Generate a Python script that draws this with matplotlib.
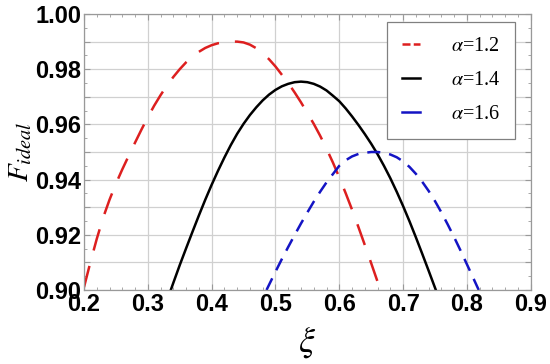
import matplotlib
matplotlib.use('Agg')
import matplotlib.pyplot as plt
from matplotlib.lines import Line2D
from matplotlib.ticker import MultipleLocator, FuncFormatter

# values
xi_12 = [0.200, 0.210, 0.220, 0.230, 0.240, 0.250, 0.260, 0.270, 0.280, 0.290, 0.300, 0.310,
         0.320, 0.330, 0.340, 0.350, 0.360, 0.370, 0.380, 0.390, 0.400, 0.410, 0.420, 0.430,
         0.440, 0.450, 0.460, 0.470, 0.480, 0.490, 0.500, 0.510, 0.520, 0.530, 0.540, 0.550,
         0.560, 0.570, 0.580, 0.590, 0.600, 0.610, 0.620, 0.630, 0.640, 0.650, 0.660, 0.6645]
F_12 = [0.9010, 0.9100, 0.9185, 0.9262, 0.9327, 0.9385, 0.9437, 0.9486, 0.9534, 0.9581, 0.9626, 0.9668,
        0.9706, 0.9741, 0.9772, 0.9800, 0.9825, 0.9846, 0.9863, 0.9877, 0.9887, 0.9894, 0.9898, 0.9900,
        0.9900, 0.9897, 0.9889, 0.9876, 0.9858, 0.9836, 0.9810, 0.9780, 0.9750, 0.9716, 0.9680, 0.9641,
        0.9602, 0.9559, 0.9512, 0.9462, 0.9408, 0.9351, 0.9291, 0.9228, 0.9163, 0.9097, 0.9030, 0.9000]

xi_14 = [0.336, 0.340, 0.350, 0.360, 0.370, 0.380, 0.390, 0.400, 0.410, 0.420, 0.430, 0.440,
         0.450, 0.460, 0.470, 0.480, 0.490, 0.500, 0.510, 0.520, 0.530, 0.540, 0.550, 0.560,
         0.570, 0.580, 0.590, 0.600, 0.610, 0.620, 0.630, 0.640, 0.650, 0.660, 0.670, 0.680,
         0.690, 0.700, 0.710, 0.720, 0.730, 0.740, 0.750, 0.7513]
F_14 = [0.9000, 0.9026, 0.9090, 0.9151, 0.9211, 0.9270, 0.9327, 0.9381, 0.9432, 0.9480, 0.9525, 0.9566,
        0.9602, 0.9634, 0.9662, 0.9687, 0.9708, 0.9725, 0.9738, 0.9747, 0.9753, 0.9755, 0.9753, 0.9747,
        0.9737, 0.9723, 0.9704, 0.9684, 0.9658, 0.9629, 0.9598, 0.9565, 0.9530, 0.9492, 0.9450, 0.9405,
        0.9356, 0.9304, 0.9249, 0.9191, 0.9131, 0.9070, 0.9008, 0.9000]

xi_16 = [0.486, 0.490, 0.500, 0.510, 0.520, 0.530, 0.540, 0.550, 0.560, 0.570, 0.580, 0.590,
         0.600, 0.610, 0.620, 0.630, 0.640, 0.650, 0.660, 0.670, 0.680, 0.690, 0.700, 0.710,
         0.720, 0.730, 0.740, 0.750, 0.760, 0.770, 0.780, 0.790, 0.800, 0.810, 0.8185]
F_16 = [0.9000, 0.9019, 0.9066, 0.9112, 0.9156, 0.9199, 0.9241, 0.9281, 0.9320, 0.9356, 0.9390, 0.9420,
        0.9450, 0.9470, 0.9484, 0.9493, 0.9497, 0.9500, 0.9500, 0.9497, 0.9491, 0.9481, 0.9466, 0.9446,
        0.9421, 0.9392, 0.9359, 0.9322, 0.9281, 0.9237, 0.9191, 0.9143, 0.9093, 0.9043, 0.9000]

labels = [r'$\alpha$=1.2', r'$\alpha$=1.4', r'$\alpha$=1.6']
colors = ['#dd1f1f', 'black', '#1414c4']

plt.rcParams['mathtext.fontset'] = 'stix'

fig = plt.figure(figsize=(5.5, 3.64), dpi=100)
ax = fig.add_axes([0.1527, 0.2033, 0.8123, 0.7582])

lw = 1.8
ax.plot(xi_12, F_12, color=colors[0], lw=lw, linestyle=(0, (8.8, 6.4)))
ax.plot(xi_14, F_14, color=colors[1], lw=lw)
ax.plot(xi_16, F_16, color=colors[2], lw=lw, linestyle=(0, (5.2, 3.6)))

ax.set_xlim(0.2, 0.9)
ax.set_ylim(0.90, 1.00)

ax.xaxis.set_major_locator(MultipleLocator(0.1))
ax.xaxis.set_minor_locator(MultipleLocator(0.02))
ax.yaxis.set_major_locator(MultipleLocator(0.01))
ax.yaxis.set_minor_locator(MultipleLocator(0.005))
ax.xaxis.set_major_formatter(FuncFormatter(lambda v, p: '%.1f' % v))
ax.yaxis.set_major_formatter(FuncFormatter(
    lambda v, p: '%.2f' % v if round(v * 100) % 2 == 0 else ''))

ax.grid(True, which='major', color='#d0d0d0', lw=0.9)
ax.set_axisbelow(True)
for s in ax.spines.values():
    s.set_color('#999999')
    s.set_linewidth(0.9)
ax.tick_params(which='both', direction='in', top=True, right=True, color='#999999')
ax.tick_params(which='major', length=4, width=0.8, pad=2)
ax.tick_params(which='minor', length=2.5, width=0.6)
for t in ax.get_xticklabels() + ax.get_yticklabels():
    t.set_fontfamily('Liberation Sans')
    t.set_fontweight('bold')
    t.set_fontsize(17)

ax.set_xlabel(r'$\xi$', fontsize=26, labelpad=6)
ax.set_ylabel(r'$F_{ideal}$', fontsize=21)
ax.yaxis.set_label_coords(-0.112, 0.5)

handles = [Line2D([], [], color=colors[0], lw=lw, linestyle=(0, (3.2, 1.3))),
           Line2D([], [], color=colors[1], lw=lw),
           Line2D([], [], color=colors[2], lw=lw)]
leg = ax.legend(handles, labels, loc='upper right', bbox_to_anchor=(0.965, 0.972),
                prop={'family': 'Liberation Serif', 'size': 14.5}, fancybox=False,
                framealpha=1, edgecolor='#808080', handlelength=0.9, handletextpad=1.5,
                labelspacing=0.75, borderpad=0.75, borderaxespad=0.0)
leg.get_frame().set_linewidth(0.9)

fig.savefig('out.png', dpi=100)
